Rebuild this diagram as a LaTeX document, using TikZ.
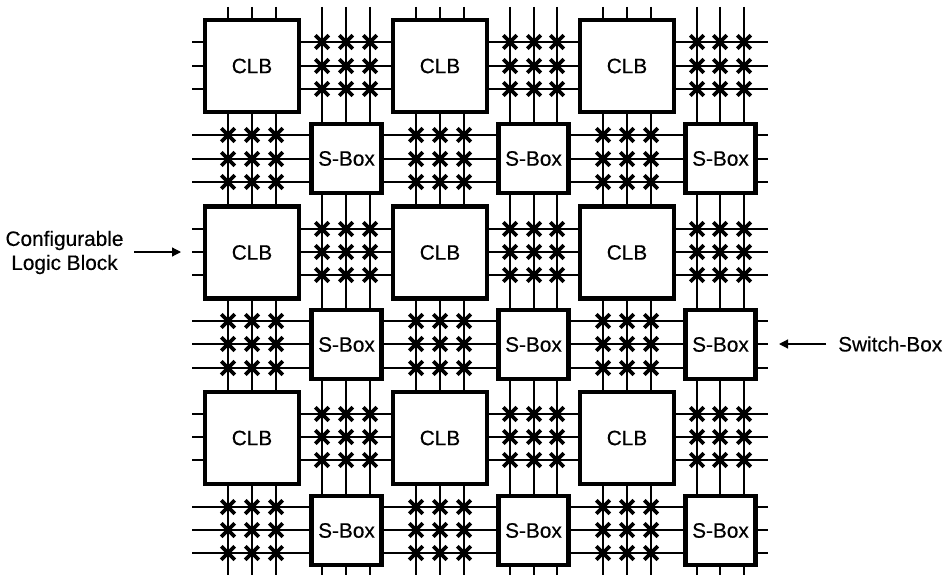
\documentclass[tikz,border=0pt]{standalone}
\usepackage{fontspec}
\setmainfont{Liberation Sans}[FakeBold=0.35]
\usetikzlibrary{shapes.misc,arrows.meta}
\tikzset{
  wire/.style={draw=black,line width=2pt},
  clbbox/.style={draw=black,fill=white,line width=4.2pt,minimum width=94pt,minimum height=92pt,inner sep=0pt,font=\fontsize{20.8}{24}\selectfont},
  sbox/.style={draw=black,fill=white,line width=4.2pt,minimum width=70pt,minimum height=69pt,inner sep=0pt,font=\fontsize{20.8}{24}\selectfont},
  xmark/.style={cross out,draw=black,line width=3.6pt,minimum size=13.5pt,inner sep=0pt,outer sep=0pt},
  lbl/.style={font=\fontsize{20.8}{24}\selectfont,inner sep=0pt,align=center},
  pointer/.style={draw=black,line width=1.2pt,-{Triangle[length=9pt,width=9pt]}}
}
\begin{document}
\begin{tikzpicture}[x=1pt,y=1pt]
\useasboundingbox (0,0) rectangle (947,-575);
% vertical wires
\foreach \vx in {228,252,276,322,346,370,416,440,464,510,534,557,603,627,651,697,720,744}{
  \coordinate (vt\vx) at (\vx,-7);
  \coordinate (vb\vx) at (\vx,-575);
  \draw[wire] (vt\vx) -- (vb\vx);
}
% horizontal wires
\foreach \hy in {42,66,89,135,159,182,229,252,275,321,344,368,414,437,460,507,530,553}{
  \coordinate (hl\hy) at (192,-\hy);
  \coordinate (hr\hy) at (768,-\hy);
  \draw[wire] (hl\hy) -- (hr\hy);
}
% switch crosses over the CLB rows
\foreach \hy in {42,66,89,229,252,275,414,437,460}{
  \foreach \vx in {322,346,370,510,534,557,697,720,744}{
    \node[xmark] (m\vx-\hy) at (\vx,-\hy) {};
  }
}
% switch crosses over the S-Box rows
\foreach \hy in {135,159,182,321,344,368,507,530,553}{
  \foreach \vx in {228,252,276,416,440,464,603,627,651}{
    \node[xmark] (m\vx-\hy) at (\vx,-\hy) {};
  }
}
% logic blocks
\node[clbbox] (clb11) at (252,-66) {CLB};
\node[clbbox] (clb12) at (440,-66) {CLB};
\node[clbbox] (clb13) at (627,-66) {CLB};
\node[clbbox] (clb21) at (252,-252.5) {CLB};
\node[clbbox] (clb22) at (440,-252.5) {CLB};
\node[clbbox] (clb23) at (627,-252.5) {CLB};
\node[clbbox] (clb31) at (252,-438) {CLB};
\node[clbbox] (clb32) at (440,-438) {CLB};
\node[clbbox] (clb33) at (627,-438) {CLB};
% switch boxes
\node[sbox] (sb11) at (346.5,-158.5) {S-Box};
\node[sbox] (sb12) at (533.5,-158.5) {S-Box};
\node[sbox] (sb13) at (720.5,-158.5) {S-Box};
\node[sbox] (sb21) at (346.5,-344.5) {S-Box};
\node[sbox] (sb22) at (533.5,-344.5) {S-Box};
\node[sbox] (sb23) at (720.5,-344.5) {S-Box};
\node[sbox] (sb31) at (346.5,-530.5) {S-Box};
\node[sbox] (sb32) at (533.5,-530.5) {S-Box};
\node[sbox] (sb33) at (720.5,-530.5) {S-Box};
% labels
\node[lbl] (clblabel) at (64.5,-252.5) {Configurable\\Logic Block};
\node[lbl,anchor=west] (sblabel) at (838,-344) {Switch-Box};
\coordinate (clbfrom) at (134,-252);
\coordinate (clbto) at (181,-252);
\coordinate (sbfrom) at (826,-344);
\coordinate (sbto) at (779,-344);
\draw[pointer] (clbfrom) -- (clbto);
\draw[pointer] (sbfrom) -- (sbto);
\end{tikzpicture}
\end{document}
